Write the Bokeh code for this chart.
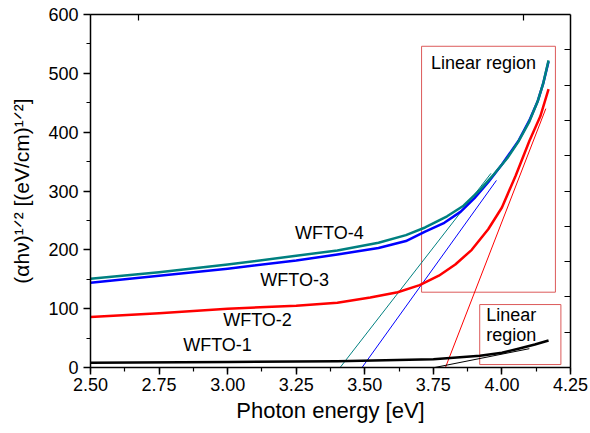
from bokeh.plotting import figure
from bokeh.models import (LinearAxis, FixedTicker, SingleIntervalTicker, NumeralTickFormatter,
                          CustomJSTickFormatter, Range1d)
from bokeh.core.properties import value
from bokeh.embed import file_html
from bokeh.resources import INLINE

# ---------------- data ----------------
x_wfto4 = [2.50, 2.75, 3.00, 3.25, 3.40, 3.55, 3.65, 3.72, 3.80, 3.86, 3.92, 3.97, 4.02, 4.06, 4.10, 4.13, 4.15, 4.17]
y_wfto4 = [151, 162, 175, 190, 199, 212, 225, 238, 257, 275, 302, 328, 356, 384, 418, 452, 482, 522]

x_wfto3 = [2.50, 2.75, 3.00, 3.25, 3.40, 3.55, 3.65, 3.72, 3.79, 3.85, 3.90, 3.95, 4.00, 4.06, 4.10, 4.13, 4.15, 4.17]
y_wfto3 = [144, 156, 168, 182, 192, 203, 215, 231, 246, 265, 288, 315, 345, 385, 420, 452, 482, 520]

x_wfto2 = [2.50, 2.75, 3.00, 3.25, 3.40, 3.52, 3.62, 3.70, 3.77, 3.83, 3.89, 3.95, 4.00, 4.05, 4.10, 4.14, 4.17]
y_wfto2 = [86, 92, 100, 105, 110, 119, 128, 140, 156, 175, 200, 235, 272, 326, 385, 427, 473]

x_wfto1 = [2.50, 3.00, 3.40, 3.75, 3.92, 4.00, 4.06, 4.12, 4.17]
y_wfto1 = [8, 9.5, 10.5, 14, 20, 25, 32, 39, 46]

# linear fits (tangent lines)
fit4_x, fit4_y = [3.41, 3.96], [0, 330]
fit3_x, fit3_y = [3.49, 3.98], [0, 318]
fit2_x, fit2_y = [3.794, 4.16], [0, 440]
fit1_x, fit1_y = [3.755, 4.10], [0, 32]

# "Linear region" boxes
box_left = [3.707, 3.919]
box_right = [4.195, 4.215]
box_bottom = [128, 5]
box_top = [546, 107]

# labels
curve_labels = ["WFTO-4", "WFTO-3", "WFTO-2", "WFTO-1", "Linear region"]
curve_label_x = [3.371, 3.244, 3.109, 2.963, 3.933]
curve_label_y = [229, 149, 80, 37.5, 518]
box2_labels = ["Linear", "region"]
box2_label_x = [3.943, 3.943]
box2_label_y = [89, 55]

x_label = "Photon energy [eV]"
y_label = "(\u03b1h\u03bd)\u00b9\u141f\u00b2 [(eV/cm)\u00b9\u141f\u00b2]"

# ---------------- figure ----------------
FONT = "Liberation Sans"
TEAL, BLUE, RED, BLACK = "#008080", "#0000ff", "#ff0000", "#000000"
BOX = "#dc5a5a"

p = figure(width=590, height=433, x_range=Range1d(2.5, 4.25), y_range=Range1d(0, 600),
           output_backend="svg", toolbar_location=None,
           min_border_left=90, min_border_right=20, min_border_top=14, min_border_bottom=66,
           x_axis_label=x_label, y_axis_label=y_label)
p.grid.visible = False
p.outline_line_color = None
p.background_fill_color = "white"
p.border_fill_color = "white"

xa = p.below[0]
xa.ticker = SingleIntervalTicker(interval=0.25, num_minor_ticks=2)
xa.formatter = NumeralTickFormatter(format="0.00")
ya = p.left[0]
ya.ticker = SingleIntervalTicker(interval=100, num_minor_ticks=2)

for ax in (xa, ya):
    ax.axis_line_width = 1.5
    ax.major_tick_line_width = 1.5
    ax.minor_tick_line_width = 1.2
    ax.major_tick_in = 0
    ax.major_tick_out = 7
    ax.minor_tick_in = 0
    ax.minor_tick_out = 4
    ax.major_label_text_font = FONT
    ax.major_label_text_font_size = "18px"
    ax.major_label_text_color = "black"
    ax.axis_label_text_font = FONT
    ax.axis_label_text_font_style = "normal"
    ax.axis_label_text_color = "black"
xa.axis_label_text_font_size = "22px"
ya.axis_label_text_font_size = "21px"
xa.major_label_standoff = 3
xa.axis_label_standoff = 4
ya.major_label_standoff = 5
ya.axis_label_standoff = 12

blank = CustomJSTickFormatter(code="return ''")
right_ax = LinearAxis(ticker=FixedTicker(ticks=[60 * k for k in range(1, 10)]), formatter=blank,
                      axis_line_width=1.5, major_tick_in=6, major_tick_out=0, major_tick_line_width=1.2,
                      minor_tick_line_color=None, major_label_text_font_size="10px")
top_ax = LinearAxis(ticker=FixedTicker(ticks=[2.675, 4.08]), formatter=blank,
                    axis_line_width=1.5, major_tick_in=6, major_tick_out=0, major_tick_line_width=1.2,
                    minor_tick_line_color=None, major_label_text_font_size="10px")
p.add_layout(right_ax, "right")
p.add_layout(top_ax, "above")

# boxes
p.quad(left=box_left, right=box_right, bottom=box_bottom, top=box_top,
       fill_color=None, line_color=BOX, line_width=1)

# fit lines
p.line(fit4_x, fit4_y, line_color=TEAL, line_width=1)
p.line(fit3_x, fit3_y, line_color=BLUE, line_width=1)
p.line(fit2_x, fit2_y, line_color=RED, line_width=1)
p.line(fit1_x, fit1_y, line_color=BLACK, line_width=1)

# curves
p.line(x_wfto1, y_wfto1, line_color=BLACK, line_width=2.5, line_join="round")
p.line(x_wfto2, y_wfto2, line_color=RED, line_width=2.5, line_join="round")
p.line(x_wfto3, y_wfto3, line_color=BLUE, line_width=2.5, line_join="round")
p.line(x_wfto4, y_wfto4, line_color=TEAL, line_width=2.5, line_join="round")

# text labels
p.text(x=curve_label_x, y=curve_label_y, text=curve_labels, text_font=value(FONT),
       text_font_size="18px", text_align="center", text_baseline="middle", text_color="black")
p.text(x=box2_label_x, y=box2_label_y, text=box2_labels, text_font=value(FONT),
       text_font_size="18px", text_align="left", text_baseline="middle", text_color="black")

open("out.html", "w").write(file_html(p, INLINE))
